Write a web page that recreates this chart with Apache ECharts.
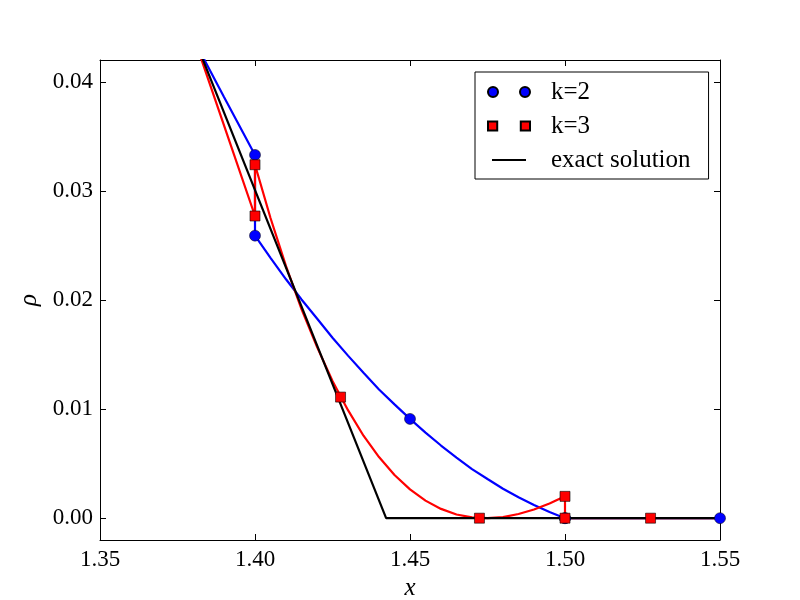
<!DOCTYPE html>
<html>
<head>
<meta charset="utf-8">
<script src="https://cdn.jsdelivr.net/npm/echarts@6/dist/echarts.min.js"></script>
<style>
  html, body { margin: 0; padding: 0; background: #fff; }
  #main { width: 800px; height: 600px; }
</style>
</head>
<body>
<div id="main"></div>
<script>
// tick values
const xTicks = [1.35, 1.40, 1.45, 1.50, 1.55];
const yTicks = [0, 0.01, 0.02, 0.03, 0.04];

// k=2 curve (jump at x=1.40)
const k2CurveX = [1.38, 1.39, 1.40, 1.40, 1.405, 1.41, 1.415, 1.42, 1.425, 1.43, 1.435, 1.44, 1.445, 1.45,
  1.455, 1.46, 1.465, 1.47, 1.475, 1.48, 1.485, 1.49, 1.495, 1.50, 1.55, 1.56];
const k2CurveY = [0.0440, 0.0386, 0.0333, 0.0259, 0.02387, 0.0219, 0.02005, 0.0183, 0.01654, 0.0149, 0.01333, 0.0118, 0.01043, 0.0091,
  0.00784, 0.00666, 0.00556, 0.0045, 0.00359, 0.0027, 0.00192, 0.0012, 0.00056, 0, 0, 0];

// k=3 curve (jumps at x=1.40 and x=1.50)
const k3CurveX = [1.38, 1.39, 1.40, 1.40, 1.405, 1.41, 1.415, 1.42, 1.425, 1.43, 1.435, 1.44, 1.445, 1.45,
  1.455, 1.46, 1.465, 1.47, 1.475, 1.48, 1.485, 1.49, 1.495, 1.50, 1.50, 1.56];
const k3CurveY = [0.0443, 0.0360, 0.0277, 0.0324, 0.02752, 0.0231, 0.01917, 0.0157, 0.01257, 0.0099, 0.00756, 0.0056, 0.00396, 0.00264,
  0.00161, 0.00085, 0.00034, 0.00007, 0.0, 0.0001, 0.00038, 0.0008, 0.00135, 0.0020, 0, 0];

// node markers
const k2NodeX = [1.40, 1.40, 1.45, 1.50, 1.50, 1.55];
const k2NodeY = [0.0333, 0.0259, 0.0091, 0, 0, 0];
const k3NodeX = [1.40, 1.40, 1.4276, 1.4724, 1.50, 1.50, 1.5276];
const k3NodeY = [0.0277, 0.0324, 0.0111, 0, 0.0020, 0, 0];

// exact solution
const exactX = [1.38, 1.4423, 1.56];
const exactY = [0.0443, 0, 0];

const zip = (xs, ys) => xs.map((x, i) => [x, ys[i]]);

const FONT = 'Liberation Serif';
const twoCircles = 'path://M0,5A5,5,0,1,1,10,5A5,5,0,1,1,0,5Z M32,5A5,5,0,1,1,42,5A5,5,0,1,1,32,5Z';
const twoSquares = 'path://M0.5,0.5h9v9h-9Z M32.5,0.5h9v9h-9Z';
const shortLine = 'path://M0,0h0.05v0.05h-0.05Z M4,4h34v2h-34Z M41.95,9.95h0.05v0.05h-0.05Z';

const chart = echarts.init(document.getElementById('main'));

const axisCommon = {
  axisLine: { show: true, onZero: false, lineStyle: { color: '#000', width: 1 } },
  axisTick: { show: true, inside: true, length: 6, lineStyle: { color: '#000', width: 1 } },
  splitLine: { show: false }
};

let option = {
  animation: false,
  backgroundColor: '#fff',
  grid: { left: 100, right: 80, top: 60, bottom: 60, containLabel: false, outerBoundsMode: 'none' },
  legend: {
    orient: 'vertical',
    left: 475,
    top: 72,
    padding: [7, 18, 6, 12],
    itemGap: 8,
    itemWidth: 42,
    itemHeight: 10,
    borderColor: '#000',
    borderWidth: 1,
    borderRadius: 0,
    backgroundColor: '#fff',
    selectedMode: false,
    textStyle: { fontFamily: FONT, fontSize: 25, lineHeight: 26, color: '#000', padding: [0, 0, 0, 16] },
    data: [
      { name: 'k=2', icon: twoCircles },
      { name: 'k=3', icon: twoSquares },
      { name: 'exact solution', icon: shortLine }
    ]
  },
  xAxis: [
    Object.assign({}, axisCommon, {
      type: 'value', position: 'bottom', min: 1.35, max: 1.55, interval: 0.05,
      name: 'x', nameLocation: 'middle', nameGap: 31,
      nameTextStyle: { fontFamily: FONT, fontStyle: 'italic', fontSize: 25, color: '#000' },
      axisLabel: { fontFamily: FONT, fontSize: 23, color: '#000', margin: 8,
        formatter: v => v.toFixed(2) }
    }),
    Object.assign({}, axisCommon, {
      type: 'value', position: 'top', min: 1.35, max: 1.55, interval: 0.05,
      axisLabel: { show: false }
    })
  ],
  yAxis: [
    Object.assign({}, axisCommon, {
      type: 'value', position: 'left', min: -0.002, max: 0.042,
      name: 'ρ', nameLocation: 'middle', nameGap: 52, nameRotate: 90,
      nameTextStyle: { fontFamily: FONT, fontStyle: 'italic', fontSize: 25, color: '#000' },
      axisTick: Object.assign({}, axisCommon.axisTick, { customValues: yTicks }),
      axisLabel: { fontFamily: FONT, fontSize: 23, color: '#000', margin: 7,
        customValues: yTicks, formatter: v => v.toFixed(2) }
    }),
    Object.assign({}, axisCommon, {
      type: 'value', position: 'right', min: -0.002, max: 0.042,
      axisTick: Object.assign({}, axisCommon.axisTick, { customValues: yTicks }),
      axisLabel: { show: false, customValues: yTicks }
    })
  ],
  series: [
    {
      name: 'k=2 curve', type: 'line', data: zip(k2CurveX, k2CurveY),
      showSymbol: false, symbol: 'none', z: 2,
      lineStyle: { color: '#0000ff', width: 2.2 }, itemStyle: { color: '#0000ff' }
    },
    {
      name: 'k=3 curve', type: 'line', data: zip(k3CurveX, k3CurveY),
      showSymbol: false, symbol: 'none', z: 3,
      lineStyle: { color: '#ff0000', width: 2.2 }, itemStyle: { color: '#ff0000' }
    },
    {
      name: 'exact solution', type: 'line', data: zip(exactX, exactY),
      showSymbol: false, symbol: 'none', z: 4,
      lineStyle: { color: '#000', width: 2.2 }, itemStyle: { color: '#000' }
    },
    {
      name: 'k=2', type: 'scatter', data: zip(k2NodeX, k2NodeY),
      symbol: 'circle', symbolSize: 11, z: 5,
      itemStyle: { color: '#0000ff', borderColor: '#000', borderWidth: 0.5, opacity: 1 }
    },
    {
      name: 'k=3', type: 'scatter', data: zip(k3NodeX, k3NodeY),
      symbol: 'rect', symbolSize: 10, z: 6,
      itemStyle: { color: '#ff0000', borderColor: '#000', borderWidth: 0.6, opacity: 1 }
    }
  ]
};

chart.setOption(option);
</script>
</body>
</html>
